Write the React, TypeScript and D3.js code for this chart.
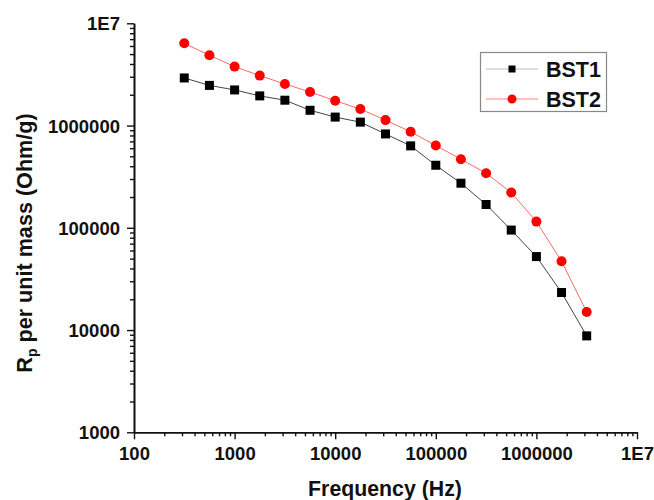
import React, { useRef, useEffect } from 'react';
import * as d3 from 'd3';

// frequency points (Hz), quarter-decade spacing
const frequency = [316, 562, 1000, 1778, 3162, 5623, 10000, 17783, 31623, 56234, 100000, 177828, 316228, 562341, 1000000, 1778279, 3162278];
const bst1 = [2.92e6, 2.47e6, 2.23e6, 1.95e6, 1.77e6, 1.41e6, 1.21e6, 1.08e6, 8.28e5, 6.33e5, 4.09e5, 2.73e5, 1.69e5, 9.5e4, 5.23e4, 2.33e4, 8.77e3];
const bst2 = [6.37e6, 4.87e6, 3.77e6, 3.08e6, 2.55e6, 2.13e6, 1.75e6, 1.45e6, 1.13e6, 8.7e5, 6.37e5, 4.69e5, 3.42e5, 2.21e5, 1.15e5, 4.71e4, 1.5e4];

const xTicks = [100, 1000, 10000, 100000, 1000000, 10000000];
const xTickLabels = ['100', '1000', '10000', '100000', '1000000', '1E7'];
const yTicks = [1000, 10000, 100000, 1000000, 10000000];
const yTickLabels = ['1000', '10000', '100000', '1000000', '1E7'];

const seriesNames = ['BST1', 'BST2'];

const App = () => {
  const svgRef = useRef<SVGSVGElement>(null);

  useEffect(() => {
    const width = 654;
    const height = 500;
    const left = 134;
    const right = 637;
    const top = 23.3;
    const bottom = 432.3;
    const font = '"Liberation Sans", Arial, sans-serif';

    const x = d3.scaleLog().domain([100, 1e7]).range([left, right]);
    const y = d3.scaleLog().domain([1000, 1e7]).range([bottom, top]);

    const svg = d3.select(svgRef.current);
    svg.selectAll('*').remove();
    svg.attr('width', width).attr('height', height).attr('viewBox', [0, 0, width, height].join(' '));

    svg.append('rect').attr('width', width).attr('height', height).attr('fill', 'white');

    // minor tick values (2..9 within each decade)
    const minorX: number[] = [];
    for (let d = 100; d < 1e7; d *= 10) for (let k = 2; k <= 9; k++) minorX.push(d * k);
    const minorY: number[] = [];
    for (let d = 1000; d < 1e7; d *= 10) for (let k = 2; k <= 9; k++) minorY.push(d * k);

    const styleAxis = (g: any) => {
      g.select('.domain').attr('stroke', '#111').attr('stroke-width', 1.6);
      g.selectAll('.tick line').attr('stroke', '#111').attr('stroke-width', 1.4);
    };

    // X axis
    svg.append('g')
      .attr('transform', `translate(0,${bottom})`)
      .call(d3.axisBottom(x).tickValues(minorX).tickSize(4).tickSizeOuter(0).tickFormat(() => ''))
      .call(styleAxis);
    svg.append('g')
      .attr('transform', `translate(0,${bottom})`)
      .call(d3.axisBottom(x).tickValues(xTicks).tickSize(7).tickSizeOuter(0)
        .tickFormat((_, i) => xTickLabels[i]))
      .call(styleAxis)
      .call(g => g.selectAll('text')
        .attr('y', 27.7).attr('dy', 0)
        .style('fill', '#111').style('font-family', font).style('font-weight', 'bold').style('font-size', '18.5px'));

    // Y axis
    svg.append('g')
      .attr('transform', `translate(${left},0)`)
      .call(d3.axisLeft(y).tickValues(minorY).tickSize(4).tickSizeOuter(0).tickFormat(() => ''))
      .call(styleAxis);
    svg.append('g')
      .attr('transform', `translate(${left},0)`)
      .call(d3.axisLeft(y).tickValues(yTicks).tickSize(7).tickSizeOuter(0)
        .tickFormat((_, i) => yTickLabels[i]))
      .call(styleAxis)
      .call(g => g.selectAll('text')
        .attr('x', -14).attr('dy', '0.36em')
        .style('fill', '#111').style('font-family', font).style('font-weight', 'bold').style('font-size', '18.5px'));

    // axis titles
    svg.append('text')
      .attr('x', 385).attr('y', 496)
      .attr('text-anchor', 'middle')
      .style('font-family', font).style('font-weight', 'bold').style('font-size', '21.3px')
      .attr('fill', '#111')
      .text('Frequency (Hz)');

    const yTitle = svg.append('text')
      .attr('transform', 'translate(32,243) rotate(-90)')
      .attr('text-anchor', 'middle')
      .style('font-family', font).style('font-weight', 'bold').style('font-size', '21.6px')
      .attr('fill', '#111');
    yTitle.append('tspan').text('R');
    yTitle.append('tspan').style('font-size', '14px').attr('dy', 5).text('p');
    yTitle.append('tspan').attr('dy', -5).text(' per unit mass (Ohm/g)');

    const line = d3.line<number>()
      .x((_, i) => x(frequency[i]))
      .y(d => y(d));

    // BST1: black squares, grey line
    svg.append('path')
      .datum(bst1)
      .attr('fill', 'none')
      .attr('stroke', '#444')
      .attr('stroke-width', 1)
      .attr('d', line);
    svg.append('g')
      .selectAll('rect')
      .data(bst1)
      .join('rect')
      .attr('x', (_, i) => x(frequency[i]) - 4.5)
      .attr('y', d => y(d) - 4.5)
      .attr('width', 9)
      .attr('height', 9)
      .attr('fill', 'black');

    // BST2: red circles, light red line
    svg.append('path')
      .datum(bst2)
      .attr('fill', 'none')
      .attr('stroke', '#ff6a6a')
      .attr('stroke-width', 1)
      .attr('d', line);
    svg.append('g')
      .selectAll('circle')
      .data(bst2)
      .join('circle')
      .attr('cx', (_, i) => x(frequency[i]))
      .attr('cy', d => y(d))
      .attr('r', 5)
      .attr('fill', '#ff0000');

    // legend
    const legend = svg.append('g');
    legend.append('rect')
      .attr('x', 480.5).attr('y', 52.5)
      .attr('width', 126).attr('height', 59)
      .attr('fill', 'white')
      .attr('stroke', '#888')
      .attr('stroke-width', 1.2);

    const rows = [
      { name: seriesNames[0], y: 69, stroke: '#bbb' },
      { name: seriesNames[1], y: 99, stroke: '#ff8080' },
    ];
    rows.forEach((r, i) => {
      legend.append('line')
        .attr('x1', 486).attr('x2', 538)
        .attr('y1', r.y).attr('y2', r.y)
        .attr('stroke', r.stroke).attr('stroke-width', 1);
      if (i === 0) {
        legend.append('rect')
          .attr('x', 508.5).attr('y', r.y - 3.5)
          .attr('width', 7).attr('height', 7)
          .attr('fill', 'black');
      } else {
        legend.append('circle')
          .attr('cx', 512).attr('cy', r.y).attr('r', 4.5)
          .attr('fill', '#ff0000');
      }
      legend.append('text')
        .attr('x', 546).attr('y', r.y)
        .attr('dy', '0.36em')
        .style('font-family', font).style('font-weight', 'bold').style('font-size', '21.5px')
        .attr('fill', '#111')
        .text(r.name);
    });
  }, []);

  return (
    <div style={{ position: 'absolute', left: 0, top: 0 }}>
      <svg ref={svgRef} style={{ display: 'block' }}></svg>
    </div>
  );
};

export default App;
